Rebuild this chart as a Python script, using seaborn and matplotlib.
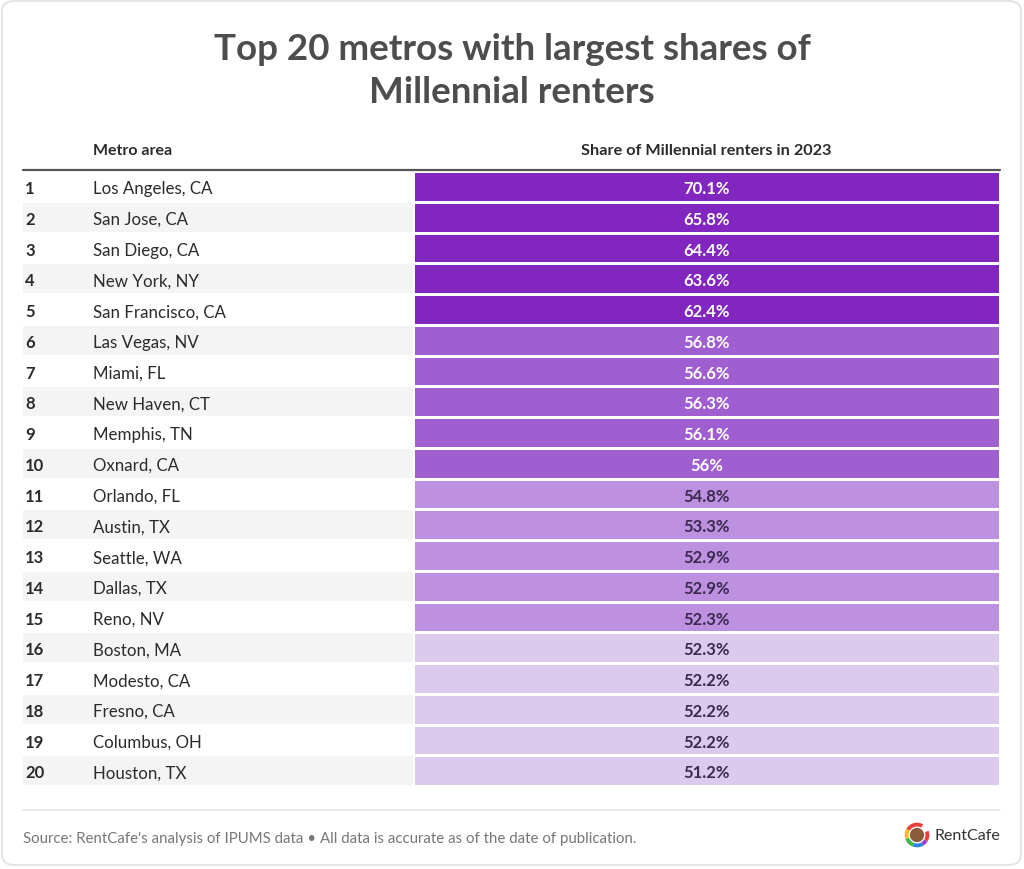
import numpy as np
import matplotlib
matplotlib.use("Agg")
import matplotlib.pyplot as plt
from matplotlib.colors import ListedColormap
from matplotlib.patches import FancyBboxPatch, Wedge, Circle
from matplotlib.lines import Line2D
import seaborn as sns

# ---------------- data ----------------
ranks = list(range(1, 21))
metros = ["Los Angeles, CA", "San Jose, CA", "San Diego, CA", "New York, NY",
          "San Francisco, CA", "Las Vegas, NV", "Miami, FL", "New Haven, CT",
          "Memphis, TN", "Oxnard, CA", "Orlando, FL", "Austin, TX",
          "Seattle, WA", "Dallas, TX", "Reno, NV", "Boston, MA",
          "Modesto, CA", "Fresno, CA", "Columbus, OH", "Houston, TX"]
shares = [70.1, 65.8, 64.4, 63.6, 62.4, 56.8, 56.6, 56.3, 56.1, 56.0,
          54.8, 53.3, 52.9, 52.9, 52.3, 52.3, 52.2, 52.2, 52.2, 51.2]
tiers = [0] * 5 + [1] * 5 + [2] * 5 + [3] * 5
tier_colors = ["#8126bf", "#a05fd0", "#bd90e0", "#dccaee"]
tier_text = ["white", "white", "#3b2a4f", "#3b2a4f"]

title = "Top 20 metros with largest shares of\nMillennial renters"
col_metro = "Metro area"
col_share = "Share of Millennial renters in 2023"
source = ("Source: RentCafe's analysis of IPUMS data \u2022 "
          "All data is accurate as of the date of publication.")

# ---------------- figure ----------------
sns.set_theme(style="white")
plt.rcParams["font.family"] = ["Lato", "DejaVu Sans"]

W, H = 1024, 870
fig = plt.figure(figsize=(W / 100, H / 100), dpi=100)
fig.patch.set_facecolor("white")

def fx(px):
    return px / W

def fy(py):
    return 1 - py / H

# card border
card = FancyBboxPatch((fx(2), fy(866)), fx(1019), 864 / H,
                      boxstyle="round,pad=0,rounding_size=0.012",
                      transform=fig.transFigure, facecolor="none",
                      edgecolor="#e3e3ea", linewidth=1.5, zorder=-5)
fig.add_artist(card)

fig.text(0.5, fy(71), title, ha="center", va="center", fontsize=26.5,
         fontweight="bold", color="#4d4d4d", linespacing=1.36)

top_px, bot_px = 172, 787
left_px, split_px, right_px = 23, 413, 1000
ax_h = (bot_px - top_px) / H

# left table part
axL = fig.add_axes([fx(left_px), fy(bot_px), fx(split_px - left_px), ax_h])
axL.set_xlim(0, split_px - left_px)
axL.set_ylim(len(metros), 0)
axL.axis("off")
for i, (r, m) in enumerate(zip(ranks, metros)):
    if i % 2 == 1:
        axL.axhspan(i + 0.03, i + 0.97, color="#f4f4f4", lw=0, zorder=0)
    axL.text(2, i + 0.56, str(r), ha="left", va="center", fontsize=12,
             fontweight="bold", color="#2b2b2b")
    axL.text(70, i + 0.56, m, ha="left", va="center", fontsize=12.2,
             color="#2b2b2b")

# colored share column via heatmap
axR = fig.add_axes([fx(split_px), fy(bot_px), fx(right_px - split_px), ax_h])
data = np.array(tiers).reshape(-1, 1)
labels = np.array([f"{v:g}%" for v in shares]).reshape(-1, 1)
sns.heatmap(data, ax=axR, cmap=ListedColormap(tier_colors), vmin=-0.5,
            vmax=3.5, annot=labels, fmt="", cbar=False, linewidths=2,
            linecolor="white",
            annot_kws={"fontsize": 12, "fontweight": "bold"})
for t, tr in zip(axR.texts, tiers):
    t.set_color(tier_text[tr])
    x, y = t.get_position()
    t.set_position((x, y + 0.06))
axR.set_xticks([])
axR.set_yticks([])
axR.set_xlabel("")
axR.set_ylabel("")

# headers
fig.text(fx(93), fy(151), col_metro, ha="left", va="center", fontsize=11.5,
         fontweight="bold", color="#2b2b2b")
fig.text(fx((split_px + right_px) / 2), fy(151), col_share, ha="center",
         va="center", fontsize=11.7, fontweight="bold", color="#2b2b2b")
fig.add_artist(Line2D([fx(left_px), fx(right_px)], [fy(171), fy(171)],
                      color="#555555", lw=1.6, transform=fig.transFigure))

# footer
fig.add_artist(Line2D([fx(left_px), fx(right_px)], [fy(811), fy(811)],
                      color="#e6e6e6", lw=1.2, transform=fig.transFigure))
fig.text(fx(23), fy(839), source, ha="left", va="center", fontsize=10.8,
         color="#777777")

# logo
axLogo = fig.add_axes([fx(904), fy(849), fx(26), 26 / H])
axLogo.set_xlim(-1, 1)
axLogo.set_ylim(-1, 1)
axLogo.set_aspect("equal")
axLogo.axis("off")
ring = [("#e8413c", 60, 150), ("#f5b921", 150, 200), ("#3cb44b", 200, 250),
        ("#2e86de", 250, 300), ("#9b3fd1", 300, 330), ("#e8413c", 330, 380)]
for c, a0, a1 in ring:
    axLogo.add_patch(Wedge((0, 0), 0.95, a0, a1, width=0.3, color=c, lw=0))
axLogo.add_patch(Circle((0, 0), 0.55, color="#8a5a3a", lw=0))
fig.text(fx(935), fy(836), "RentCafe", ha="left", va="center", fontsize=11.5,
         color="#333333")

fig.savefig("out.png", dpi=100, facecolor="white")
